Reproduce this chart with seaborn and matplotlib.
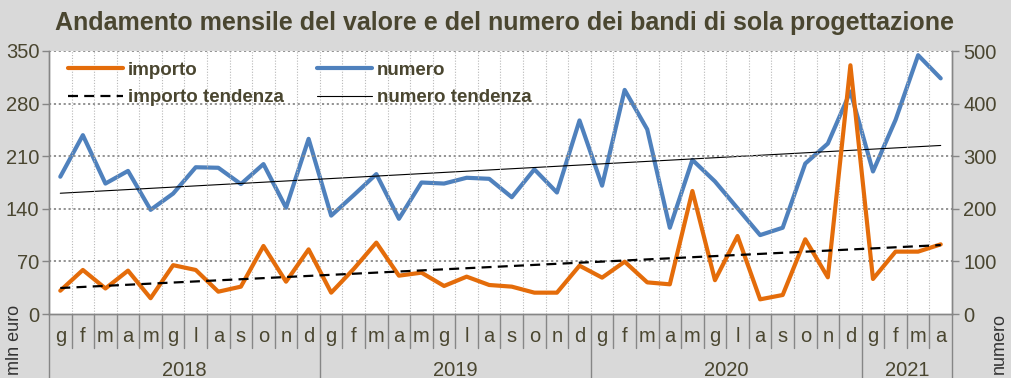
import numpy as np
import pandas as pd
import matplotlib
matplotlib.use("Agg")
import matplotlib.pyplot as plt
import matplotlib.transforms as mtransforms
import seaborn as sns
from matplotlib import font_manager

# ---------------- data ----------------
months = ["g", "f", "m", "a", "m", "g", "l", "a", "s", "o", "n", "d",
          "g", "f", "m", "a", "m", "g", "l", "a", "s", "o", "n", "d",
          "g", "f", "m", "a", "m", "g", "l", "a", "s", "o", "n", "d",
          "g", "f", "m", "a"]
years = ["2018", "2019", "2020", "2021"]
year_months = [12, 12, 12, 4]

importo = [31, 58.6, 34, 57.7, 21, 65, 58.6, 29.7, 36.4, 90.5, 43, 86,
           28.4, 60, 95, 51, 55, 37.3, 49.7, 38.6, 36.4, 28.4, 28.4, 64.3,
           48.4, 69.6, 42.1, 39.5, 163.7, 45, 103.8, 19.5, 25.3, 99.4, 48.8, 331,
           46.6, 83, 83, 92.7]
numero = [261, 340, 248, 272, 198, 229, 279, 278, 247, 285, 202, 333,
          187, 226, 266, 181, 250, 248, 259, 257, 222, 275, 231, 368,
          244, 426, 351, 164, 293, 252, 201, 150, 164, 286, 324, 423,
          271, 369, 492, 448]

left_ticks = [0, 70, 140, 210, 280, 350]
right_ticks = [0, 100, 200, 300, 400, 500]

# ---------------- style ----------------
sns.set_theme(style="white")
avail = {f.name for f in font_manager.fontManager.ttflist}
narrow = "Liberation Sans Narrow" if "Liberation Sans Narrow" in avail else "Liberation Sans"
plt.rcParams["font.family"] = ["Liberation Sans", "DejaVu Sans"]

BG = "#d9d9d9"
TXT = "#4a4630"
ORANGE = "#e46c0a"
BLUE = "#4f81bd"
AXC = "#868686"

x = np.arange(len(months))
df = pd.DataFrame({"x": x, "importo": importo, "numero": numero})
# linear trends (as Excel trendlines)
pi = np.polyfit(x, importo, 1)
pn = np.polyfit(x, numero, 1)
df["importo_t"] = np.polyval(pi, x)
df["numero_t"] = np.polyval(pn, x)

fig = plt.figure(figsize=(10.12, 3.78), dpi=100, facecolor=BG)
ax = fig.add_axes([49 / 1012, 1 - 314 / 378, (952 - 49) / 1012, (314 - 51) / 378])
ax.set_facecolor("white")
ax2 = ax.twinx()

sns.lineplot(data=df, x="x", y="importo", ax=ax, color=ORANGE, linewidth=3.0,
             label="importo", legend=False, zorder=4)
sns.lineplot(data=df, x="x", y="importo_t", ax=ax, color="black", linewidth=1.6,
             linestyle=(0, (4.5, 2.8)), label="importo tendenza", legend=False, zorder=5)
sns.lineplot(data=df, x="x", y="numero", ax=ax2, color=BLUE, linewidth=3.0,
             label="numero", legend=False, zorder=4)
sns.lineplot(data=df, x="x", y="numero_t", ax=ax2, color="black", linewidth=0.8,
             label="numero tendenza", legend=False, zorder=5)

ax.set_zorder(ax2.get_zorder() + 1)
ax.patch.set_visible(False)
ax2.patch.set_visible(True)
ax2.patch.set_facecolor("white")

ax.set_xlim(-0.5, len(months) - 0.5)
ax.set_ylim(0, 350)
ax2.set_ylim(0, 500)
ax.set_yticks(left_ticks)
ax2.set_yticks(right_ticks)
ax.set_xticks([])
ax.set_xlabel("")
ax.set_ylabel("")
ax2.set_ylabel("")

# grid
for v in left_ticks[1:]:
    ax.axhline(v, color="#8a8a8a", linestyle=(0, (1.2, 1.5)), linewidth=1.3, zorder=1)
for b in np.arange(0.5, len(months) - 0.5, 1):
    ax.axvline(b, color="#b8b8b8", linestyle=(0, (1, 1.5)), linewidth=0.8, zorder=1)

for a in (ax, ax2):
    a.spines["top"].set_visible(False)
    for s in ("left", "right", "bottom"):
        a.spines[s].set_color(AXC)
        a.spines[s].set_linewidth(1.0)

ax.tick_params(axis="y", length=5, width=1, color=AXC, labelsize=14.5,
               labelcolor=TXT, pad=2, left=True)
ax2.tick_params(axis="y", length=5, width=1, color=AXC, labelsize=14.5,
                labelcolor=TXT, pad=3, right=True)
for lab in ax.get_yticklabels() + ax2.get_yticklabels():
    lab.set_fontfamily(narrow)

# two-level category axis
tr = mtransforms.blended_transform_factory(ax.transData, ax.transAxes)
px = 1 / 263  # one pixel in axes fraction (vertical)
for i, m in enumerate(months):
    ax.text(i, -13 * px, m, transform=tr, ha="center", va="top",
            fontsize=14.5, color=TXT, family=narrow)
bounds = np.cumsum([0] + year_months)
for i in range(len(months) + 1):
    is_year = i in bounds
    y1 = -66 * px if is_year else -34 * px
    ax.plot([i - 0.5, i - 0.5], [0, y1], transform=tr, color=AXC, lw=1.0,
            clip_on=False, zorder=6)
for k, yname in enumerate(years):
    c = (bounds[k] + bounds[k + 1] - 1) / 2
    ax.text(c, -47 * px, yname, transform=tr, ha="center", va="top",
            fontsize=14.5, color=TXT, family=narrow)

# axis titles
fig.text(15 / 1012, 1 - 340 / 378, "mln euro", rotation=90, ha="center", va="center",
         fontsize=13, color="#333333")
fig.text(999 / 1012, 1 - 343 / 378, "numero", rotation=90, ha="center", va="center",
         fontsize=13, color="#333333")

# title
fig.text(505 / 1012, 1 - 23 / 378,
         "Andamento mensile del valore e del numero dei bandi di sola progettazione",
         ha="center", va="center", fontsize=18, fontweight="bold", color=TXT)

# legend
h1, l1 = ax.get_legend_handles_labels()
h2, l2 = ax2.get_legend_handles_labels()
handles = [h1[0], h1[1], h2[0], h2[1]]
labels = [l1[0], l1[1], l2[0], l2[1]]
leg = ax.legend(handles, labels, ncol=2, loc="upper left",
                bbox_to_anchor=(0.0127, 0.988), frameon=False,
                prop={"weight": "bold", "size": 13.5}, handlelength=2.93,
                columnspacing=1.76, handletextpad=0.27, labelspacing=0.56,
                borderaxespad=0.0)
for t in leg.get_texts():
    t.set_color(TXT)

fig.savefig("out.png", dpi=100, facecolor=BG)
